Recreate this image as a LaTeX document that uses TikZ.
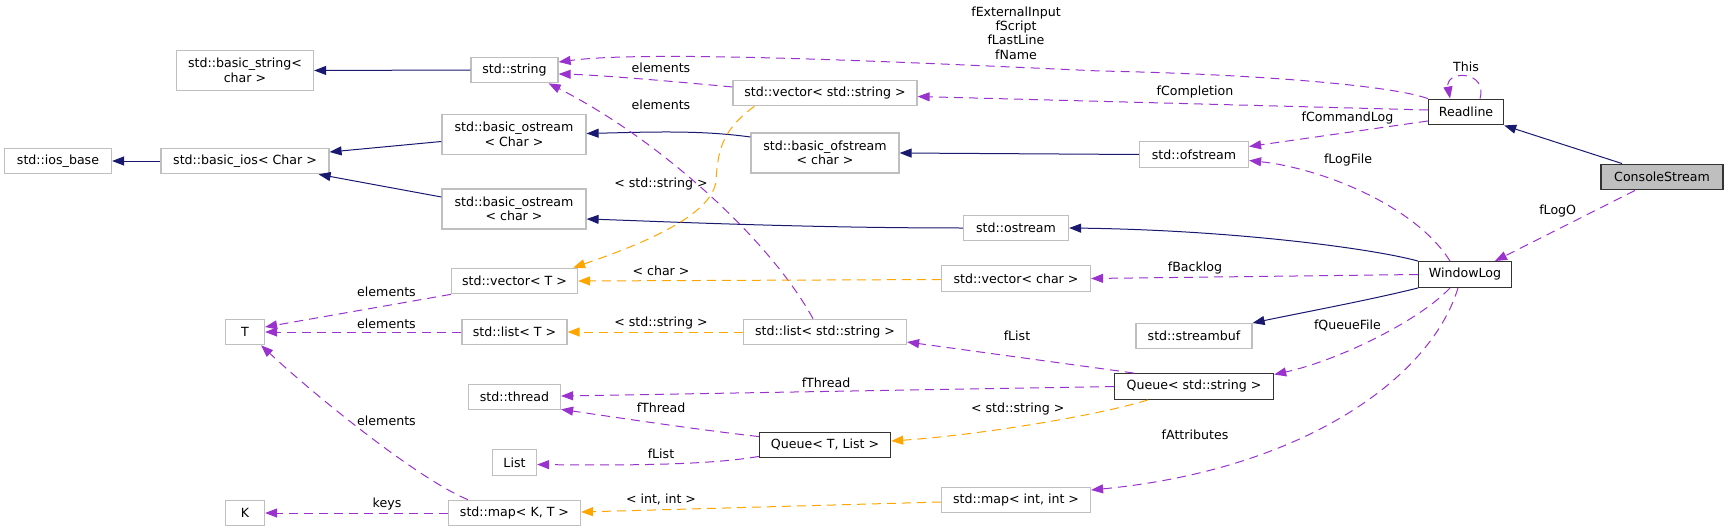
\documentclass[tikz,border=0pt]{standalone}
\usepackage{fontspec}
\setmainfont{DejaVu Sans}
\usetikzlibrary{arrows.meta,calc}
\definecolor{inhc}{HTML}{191970}
\definecolor{usec}{HTML}{9A32CD}
\definecolor{tplc}{HTML}{FFA500}
\definecolor{extc}{HTML}{BFBFBF}
\definecolor{docc}{HTML}{333333}
\begin{document}
\begin{tikzpicture}[x=1pt,y=-1pt,
  extbox/.style={draw=extc, line width=1.2pt, fill=white, minimum height=25.5pt, inner sep=0pt,
    font=\fontsize{12.6}{14.4}\selectfont, align=center},
  extbox2/.style={extbox, minimum height=40pt},
  docbox/.style={extbox, draw=docc, line width=1.4pt},
  inh/.style={draw=inhc, line width=1pt, -{Triangle[length=12pt,width=9pt]}},
  usage/.style={draw=usec, line width=1pt, dash pattern=on 9pt off 6pt, -{Triangle[length=12pt,width=9pt]}},
  tpl/.style={draw=tplc, line width=1pt, dash pattern=on 9pt off 6pt, -{Triangle[length=12pt,width=9pt]}},
  lbl/.style={font=\fontsize{12.6}{14.4}\selectfont, inner sep=0pt, align=center}
]
\useasboundingbox (0,0) rectangle (1728,532);
% nodes
\node[extbox, minimum width=107pt] (iosb) at (58,161) {std::ios\_base};
\node[extbox2, minimum width=137pt] (bstr) at (245,70.5) {std::basic\_string<\\char >};
\node[extbox, minimum width=168pt] (bios) at (245,161) {std::basic\_ios< Char >};
\node[extbox, minimum width=39pt] (T) at (245,332) {T};
\node[extbox, minimum width=39pt] (K) at (245,513) {K};
\node[extbox, minimum width=87pt] (str) at (514.5,70) {std::string};
\node[extbox2, minimum width=144pt] (bostrC) at (514,134.5) {std::basic\_ostream\\< Char >};
\node[extbox2, minimum width=144pt] (bostrc) at (514,209) {std::basic\_ostream\\< char >};
\node[extbox, minimum width=126pt] (vecT) at (514.5,281) {std::vector< T >};
\node[extbox, minimum width=105pt] (listT) at (514.5,332) {std::list< T >};
\node[extbox, minimum width=92pt] (thread) at (514.5,397) {std::thread};
\node[extbox, minimum width=44pt] (List) at (514.5,462.5) {List};
\node[extbox, minimum width=132pt] (mapKT) at (514.5,513) {std::map< K, T >};
\node[extbox, minimum width=184pt] (vecstr) at (825,93) {std::vector< std::string >};
\node[extbox2, minimum width=148pt] (bofs) at (825,153) {std::basic\_ofstream\\< char >};
\node[extbox, minimum width=163pt] (liststr) at (825,332) {std::list< std::string >};
\node[docbox, minimum width=131pt] (qTL) at (825,445) {Queue< T, List >};
\node[extbox, minimum width=105pt] (ostr) at (1016,228) {std::ostream};
\node[extbox, minimum width=149pt] (vecc) at (1016,278.5) {std::vector< char >};
\node[extbox, minimum width=149pt] (mapii) at (1016,500) {std::map< int, int >};
\node[extbox, minimum width=109pt] (ofs) at (1194,154.5) {std::ofstream};
\node[extbox, minimum width=116pt] (sbuf) at (1194,336) {std::streambuf};
\node[docbox, minimum width=159pt] (qstr) at (1194,386.5) {Queue< std::string >};
\node[docbox, minimum width=75pt] (readline) at (1466,112) {Readline};
\node[docbox, minimum width=92.5pt] (wlog) at (1465,274.5) {WindowLog};
\node[docbox, fill=extc, minimum width=122pt] (console) at (1662,177) {ConsoleStream};
% inheritance
\draw[inh] (str.west) -- (bstr.east);
\draw[inh] ($(bostrC.west)+(0,7)$) -- ($(bios.east)+(0,-9)$);
\draw[inh] ($(bostrc.west)+(0,-12)$) -- ($(bios.south east)+(-11,0)$);
\draw[inh] (bios.west) -- (iosb.east);
\draw[inh] ($(bofs.west)+(0,-16)$) .. controls (700,130) and (650,132) .. ($(bostrC.east)+(0,-1)$);
\draw[inh] (ofs.west) -- (bofs.east);
\draw[inh] (ostr.west) .. controls (800,228) and (650,221) .. ($(bostrc.east)+(0,10)$);
\draw[inh] (wlog.north west) .. controls (1370,248) and (1230,230) .. (ostr.east);
\draw[inh] (wlog.south west) .. controls (1370,300) and (1300,313) .. ($(sbuf.east)+(0,-13)$);
\draw[inh] ($(console.north)+(-40,0)$) -- (readline.south east);
% usage
\draw[usage] (readline.north west) .. controls (1390,85) and (1250,74) .. (1100,71)
  .. controls (900,62) and (650,50) .. ($(str.east)+(0,-8)$);
\node[lbl] (l1) at (1016,33) {fExternalInput\\fScript\\fLastLine\\fName};
\draw[usage] ($(vecstr.west)+(0,-6)$) .. controls (680,82) and (600,75) .. ($(str.east)+(0,4)$);
\node[lbl] (l2) at (661,68) {elements};
\draw[usage] ($(liststr.north)+(-12,0)$) .. controls (770,240) and (660,140) .. ($(str.south east)+(-10,0)$);
\node[lbl] (l3) at (661,105) {elements};
\draw[usage] ($(readline.west)+(0,-2)$) -- ($(vecstr.east)+(0,3.5)$);
\node[lbl] (l4) at (1195,92) {fCompletion};
\draw[usage] ($(readline.west)+(0,9)$) -- ($(ofs.east)+(0,-8)$);
\node[lbl] (l5) at (1347.5,118) {fCommandLog};
\draw[usage] ($(readline.north)+(14,0)$) .. controls (1488,70) and (1445,70) .. ($(readline.north)+(-16,0)$);
\node[lbl] (l6) at (1466,66.7) {This};
\draw[usage] ($(wlog.north)+(-15,0)$) .. controls (1415,205) and (1320,168) .. ($(ofs.east)+(0,6)$);
\node[lbl] (l7) at (1348,160) {fLogFile};
\draw[usage] ($(console.south)+(-27,0)$) -- ($(wlog.north east)+(-17,0)$);
\node[lbl] (l8) at (1557.7,211) {fLogO};
\draw[usage] (wlog.west) -- (vecc.east);
\node[lbl] (l9) at (1195,267.7) {fBacklog};
\draw[usage] ($(wlog.south)+(-15,0)$) .. controls (1420,320) and (1340,360) .. ($(qstr.east)+(0,-12)$);
\node[lbl] (l10) at (1347.5,326) {fQueueFile};
\draw[usage] ($(wlog.south)+(-7,0)$) .. controls (1430,380) and (1300,470) .. ($(mapii.east)+(0,-10)$);
\node[lbl] (l11) at (1195,435) {fAttributes};
\draw[usage] ($(qstr.north west)+(20,0)$) -- ($(liststr.east)+(0,10)$);
\node[lbl] (l12) at (1017,335.7) {fList};
\draw[usage] (qstr.west) -- ($(thread.east)+(0,-1)$);
\node[lbl] (l13) at (826,382.3) {fThread};
\draw[usage] ($(qTL.north west)+(0,5)$) .. controls (700,430) and (620,418) .. ($(thread.south east)+(0,-1)$);
\node[lbl] (l14) at (661,408) {fThread};
\draw[usage] ($(qTL.south west)+(0,-2)$) .. controls (720,463) and (660,466) .. ($(List.east)+(0,2)$);
\node[lbl] (l15) at (661,454) {fList};
\draw[usage] (vecT.south west) -- ($(T.east)+(0,-5)$);
\node[lbl] (l16) at (386.5,291.7) {elements};
\draw[usage] (listT.west) -- (T.east);
\node[lbl] (l17) at (386.5,323.3) {elements};
\draw[usage] ($(mapKT.north west)+(20,0)$) .. controls (420,480) and (320,400) .. ($(T.south east)+(-4,0)$);
\node[lbl] (l18) at (386.5,420.7) {elements};
\draw[usage] (mapKT.west) -- (K.east);
\node[lbl] (l19) at (387,504) {keys};
% template
\draw[tpl] ($(vecstr.south west)+(22,0)$) .. controls (722,130) and (718,150) .. (716,180)
  .. controls (714,215) and (640,245) .. ($(vecT.north east)+(-5,0)$);
\node[lbl] (l20) at (661,184) {< std::string >};
\draw[tpl] ($(vecc.west)+(0,1)$) -- (vecT.east);
\node[lbl] (l21) at (661,271) {< char >};
\draw[tpl] (liststr.west) -- (listT.east);
\node[lbl] (l22) at (661,323.3) {< std::string >};
\draw[tpl] ($(qstr.south west)+(34,0)$) .. controls (1100,415) and (980,435) .. ($(qTL.east)+(0,-4)$);
\node[lbl] (l23) at (1017.7,408.7) {< std::string >};
\draw[tpl] ($(mapii.west)+(0,2)$) -- ($(mapKT.east)+(0,-1)$);
\node[lbl] (l24) at (661,499.3) {< int, int >};
\end{tikzpicture}
\end{document}
